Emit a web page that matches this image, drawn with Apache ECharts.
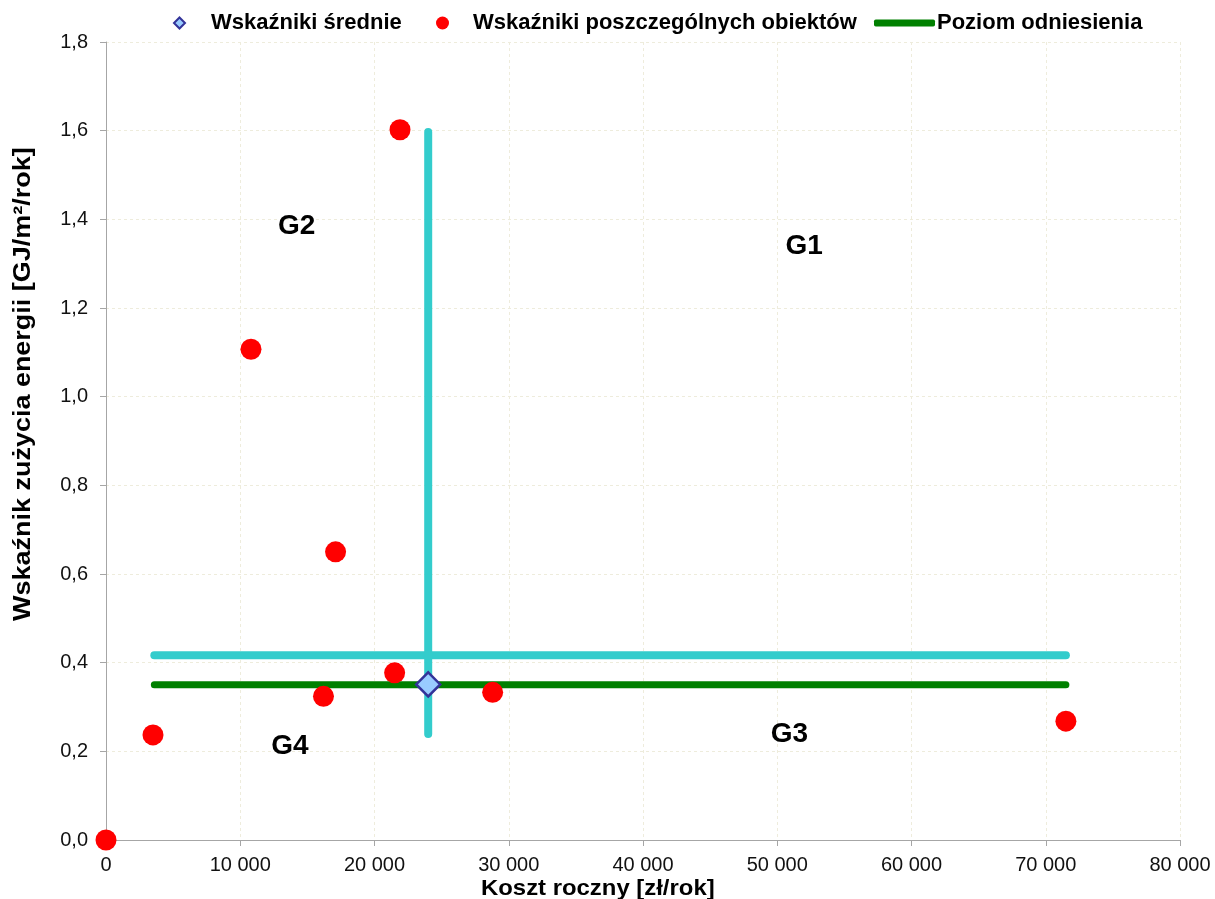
<!DOCTYPE html>
<html>
<head>
<meta charset="utf-8">
<script src="https://cdn.jsdelivr.net/npm/echarts@6/dist/echarts.min.js"></script>
<style>
html,body{margin:0;padding:0;background:#fff;}
#chart{width:1215px;height:899px;}
</style>
</head>
<body>
<div id="chart"></div>
<script>
// Individual buildings: [annual cost zł/rok, energy index GJ/m²/rok]
var objectPoints = [
  [0, 0],
  [3500, 0.237],
  [10800, 1.107],
  [17100, 0.650],
  [16200, 0.324],
  [21900, 1.602],
  [21500, 0.377],
  [28800, 0.333],
  [71500, 0.268]
];
// Mean values
var meanPoints = [[24000, 0.351]];
// Reference level (green) and group divider lines (cyan)
var referenceLine = [[3600, 0.35], [71500, 0.35]];
var dividerHorizontal = [[3600, 0.417], [71500, 0.417]];
var dividerVertical = [[24000, 1.597], [24000, 0.239]];
// Group labels and their positions
var groupLabels = ['G1', 'G2', 'G3', 'G4'];
var groupPositions = [[52000, 1.34], [14200, 1.385], [50900, 0.238], [13700, 0.211]];
// Legend texts
var legendNames = ['Wskaźniki średnie', 'Wskaźniki poszczególnych obiektów', 'Poziom odniesienia'];

var FONT = '"Liberation Sans", Arial, sans-serif';

var chart = echarts.init(document.getElementById('chart'), null, {renderer: 'canvas'});

var gridLine = {show: true, lineStyle: {color: '#eeecdc', type: [3, 3], width: 1}};

function legendText(padLeft) {
  return {fontFamily: FONT, fontSize: 22, fontWeight: 'bold', color: '#000', padding: [0, 0, 0, padLeft]};
}

var option = {
  backgroundColor: '#ffffff',
  animation: false,
  grid: {left: 106, right: 35, top: 42, bottom: 59, containLabel: false},
  legend: [
    {data: [{name: legendNames[0], icon: 'diamond'}], left: 168, top: 7, itemWidth: 11, itemHeight: 11,
     textStyle: legendText(21), itemStyle: {color: '#99ccff', borderColor: '#333399', borderWidth: 2}},
    {data: [{name: legendNames[1], icon: 'circle'}], left: 431, top: 7, itemWidth: 13, itemHeight: 13,
     textStyle: legendText(19)},
    {data: [{name: legendNames[2], icon: 'roundRect'}], left: 869, top: 7, itemWidth: 61, itemHeight: 7,
     textStyle: legendText(-3)}
  ],
  xAxis: {
    type: 'value', min: 0, max: 80000, interval: 10000,
    axisLine: {show: true, onZero: false, lineStyle: {color: '#a6a6a6', width: 1}},
    axisTick: {show: true, length: 6, lineStyle: {color: '#a6a6a6'}},
    splitLine: gridLine,
    axisLabel: {
      fontFamily: FONT, fontSize: 20, color: '#111', margin: 15,
      formatter: function (v) { return v === 0 ? '0' : String(v).replace(/\B(?=(\d{3})+(?!\d))/g, ' '); }
    }
  },
  yAxis: {
    type: 'value', min: 0, max: 1.8, interval: 0.2,
    axisLine: {show: true, onZero: false, lineStyle: {color: '#a6a6a6', width: 1}},
    axisTick: {show: true, length: 6, lineStyle: {color: '#a6a6a6'}},
    splitLine: gridLine,
    axisLabel: {
      fontFamily: FONT, fontSize: 20, color: '#111', margin: 18,
      formatter: function (v) { return v.toFixed(1).replace('.', ','); }
    }
  },
  graphic: [
    {type: 'text', left: 481, top: 878, scaleX: 1.086,
     style: {text: 'Koszt roczny [zł/rok]', font: 'bold 22px ' + FONT, fill: '#000'}},
    {type: 'text', x: 11, y: 621, rotation: Math.PI / 2, scaleX: 1.124,
     style: {text: 'Wskaźnik zużycia energii [GJ/m²/rok]', font: 'bold 24px ' + FONT, fill: '#000',
             textAlign: 'left', textVerticalAlign: 'top'}}
  ],
  series: [
    {
      name: 'dividerH', type: 'line', data: dividerHorizontal, symbol: 'none', silent: true,
      lineStyle: {color: '#33cccc', width: 8, cap: 'round'}, z: 2
    },
    {
      name: legendNames[2], type: 'line', data: referenceLine, symbol: 'none', silent: true,
      itemStyle: {color: '#008000'},
      lineStyle: {color: '#008000', width: 7, cap: 'round'}, z: 3
    },
    {
      name: 'dividerV', type: 'line', data: dividerVertical, symbol: 'none', silent: true,
      lineStyle: {color: '#33cccc', width: 8, cap: 'round'}, z: 4
    },
    {
      name: legendNames[1], type: 'scatter', data: objectPoints, symbol: 'circle', symbolSize: 21,
      itemStyle: {color: '#ff0000', opacity: 1}, z: 5
    },
    {
      name: legendNames[0], type: 'scatter', data: meanPoints, symbol: 'diamond', symbolSize: 24,
      itemStyle: {color: '#99ccff', borderColor: '#333399', borderWidth: 2.5, opacity: 1}, z: 6
    },
    {
      name: 'groups', type: 'scatter', silent: true, symbolSize: 1, z: 7,
      itemStyle: {color: 'rgba(0,0,0,0)', opacity: 1},
      data: groupLabels.map(function (g, i) { return {value: groupPositions[i], name: g}; }),
      label: {show: true, position: 'inside', formatter: '{b}', fontFamily: FONT, fontSize: 28,
              fontWeight: 'bold', color: '#000', opacity: 1, textBorderWidth: 0}
    }
  ]
};

chart.setOption(option);
</script>
</body>
</html>
